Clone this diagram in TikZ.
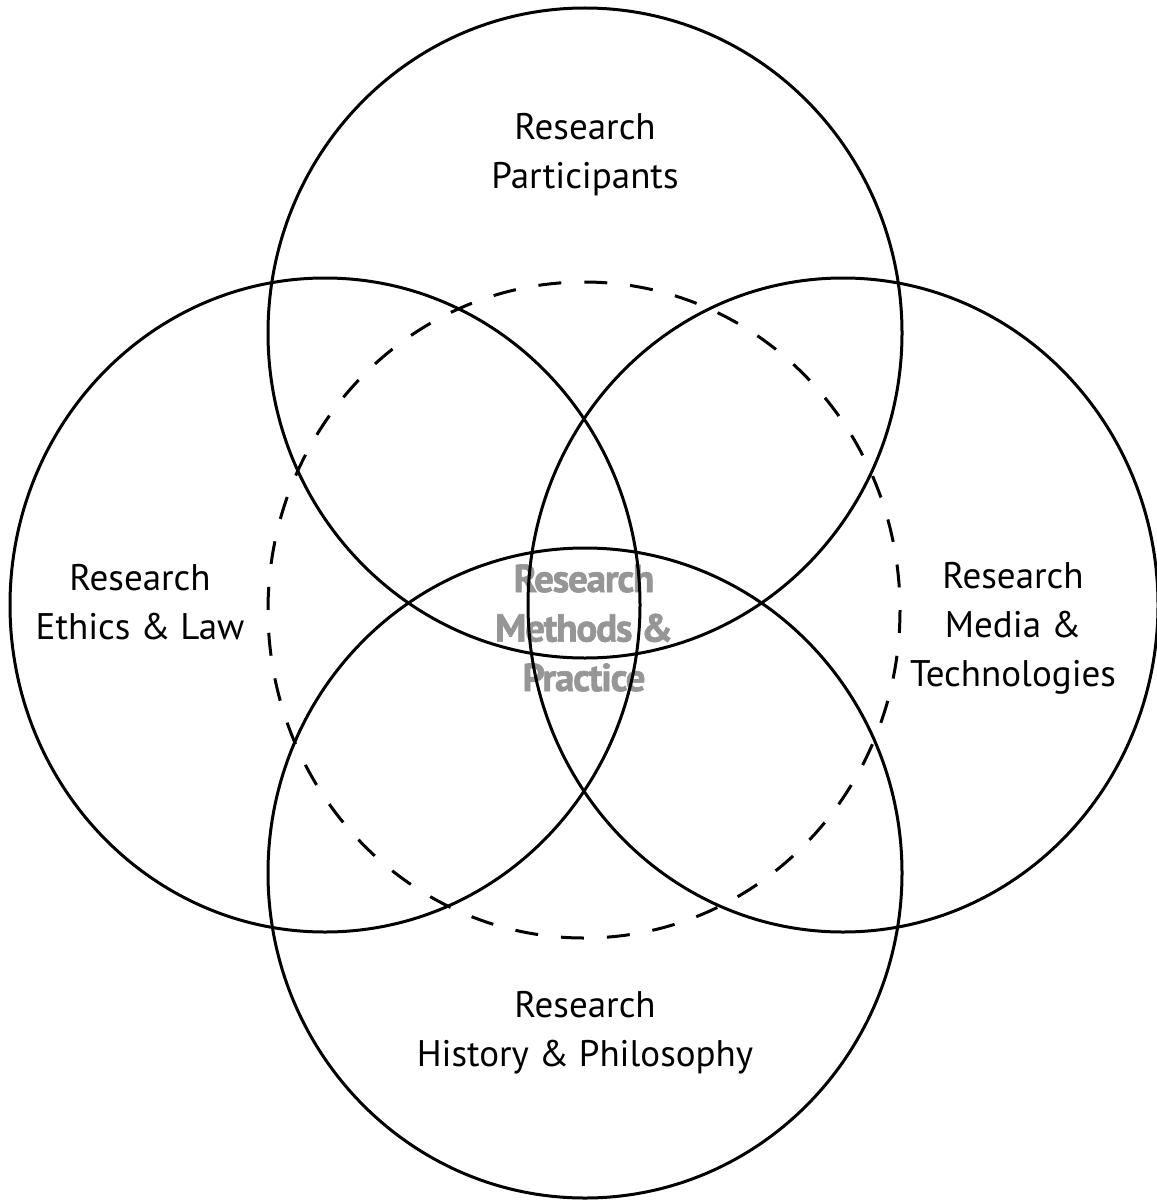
\documentclass[tikz,border=0pt]{standalone}
\usepackage{fontspec}
\setmainfont{PT Sans}
\newfontfamily\corefont[FakeBold=1.6,LetterSpace=-3]{PT Sans Bold}
\begin{document}
\begin{tikzpicture}[x=1pt,y=-1pt,
  ring/.style={draw=black,line width=3pt},
  dashring/.style={draw=black,line width=3pt,dash pattern=on 23pt off 23pt},
  lbl/.style={align=center,inner sep=0pt,font=\fontsize{37}{49}\selectfont},
  core/.style={align=center,inner sep=0pt,text=black!41,font=\corefont\fontsize{39}{49.5}\selectfont}]
\useasboundingbox (0,0) rectangle (1156,1201);
\fill[white] (0,0) rectangle (1156,1201);
\node[core] (core) at (584,628) {Research\\Methods \&\\Practice};
\draw[ring] (585,333) ellipse [x radius=317,y radius=325];
\draw[ring] (585,873) ellipse [x radius=317,y radius=325];
\draw[ring] (325,605) ellipse [x radius=315,y radius=327];
\draw[ring] (843,605) ellipse [x radius=315,y radius=327];
\draw[dashring] (584,610) ellipse [x radius=316,y radius=328];
\node[lbl] (top) at (585,155) {Research\\Participants};
\node[lbl] (left) at (140,602) {Research\\Ethics \& Law};
\node[lbl] (right) at (1013,628) {Research\\Media \&\\Technologies};
\node[lbl] (bottom) at (585,1033) {Research\\History \& Philosophy};
\end{tikzpicture}
\end{document}
